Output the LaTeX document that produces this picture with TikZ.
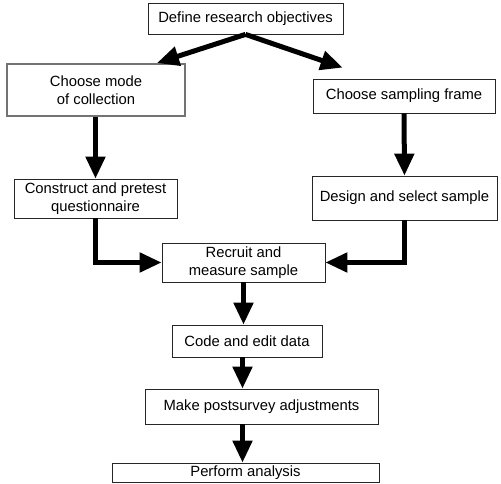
\documentclass[tikz,border=0pt]{standalone}
\usepackage{fontspec}
\setmainfont{Liberation Sans}
\usetikzlibrary{arrows.meta,calc}
\begin{document}
\begin{tikzpicture}[x=1pt,y=-1pt,
  box/.style={draw=black!85, line width=0.8pt, rectangle, inner sep=0pt, align=center,
    font=\fontsize{14.8}{17.5}\selectfont},
  graybox/.style={box, draw=black!55, line width=2pt},
  flow/.style={line width=5pt, -{Triangle[length=22pt,width=19pt]}}]
\useasboundingbox (0,0) rectangle (501,484);
\node[box, minimum width=195pt, minimum height=31pt] (def) at (245.5,18.5) {Define research objectives};
\node[graybox, minimum width=178pt, minimum height=52pt] (mode) at (96,90) {Choose mode\\of collection};
\node[box, minimum width=182pt, minimum height=34pt] (samp) at (404,96) {Choose sampling frame};
\node[box, minimum width=163pt, minimum height=39pt] (cons) at (95.5,198.5) {Construct and pretest\\questionnaire};
\node[box, minimum width=185pt, minimum height=44pt] (des) at (404.5,198) {Design and select sample};
\node[box, minimum width=163pt, minimum height=39pt] (rec) at (243.5,262.5) {Recruit and\\measure sample};
\node[box, minimum width=150pt, minimum height=32pt] (code) at (247,341) {Code and edit data};
\node[box, minimum width=233pt, minimum height=35pt] (make) at (261.5,406.5) {Make postsurvey adjustments};
\node[box, minimum width=267pt, minimum height=19pt] (perf) at (245.5,472.5) {Perform analysis};
\coordinate (lt) at ($(mode.north west)+(151,0)$);
\coordinate (rt) at ($(samp.north west)+(30,-11)$);
\draw[flow] (def.south) -- (lt);
\draw[flow] (def.south) -- (rt);
\draw[flow] (cons.north |- mode.south) -- (cons.north);
\draw[flow] (samp.south) -- (des.north);
\draw[flow] (cons.south) |- (rec.west);
\draw[flow] (des.south) |- (rec.east);
\draw[flow] (rec.south) -- (rec.south |- code.north);
\draw[flow] ($(rec.south |- code.south)+(-1,0)$) -- ($(rec.south |- make.north)+(-1,0)$);
\draw[flow] ($(rec.south |- make.south)+(-1,0)$) -- ($(rec.south |- perf.north)+(-1,0)$);
\end{tikzpicture}
\end{document}
